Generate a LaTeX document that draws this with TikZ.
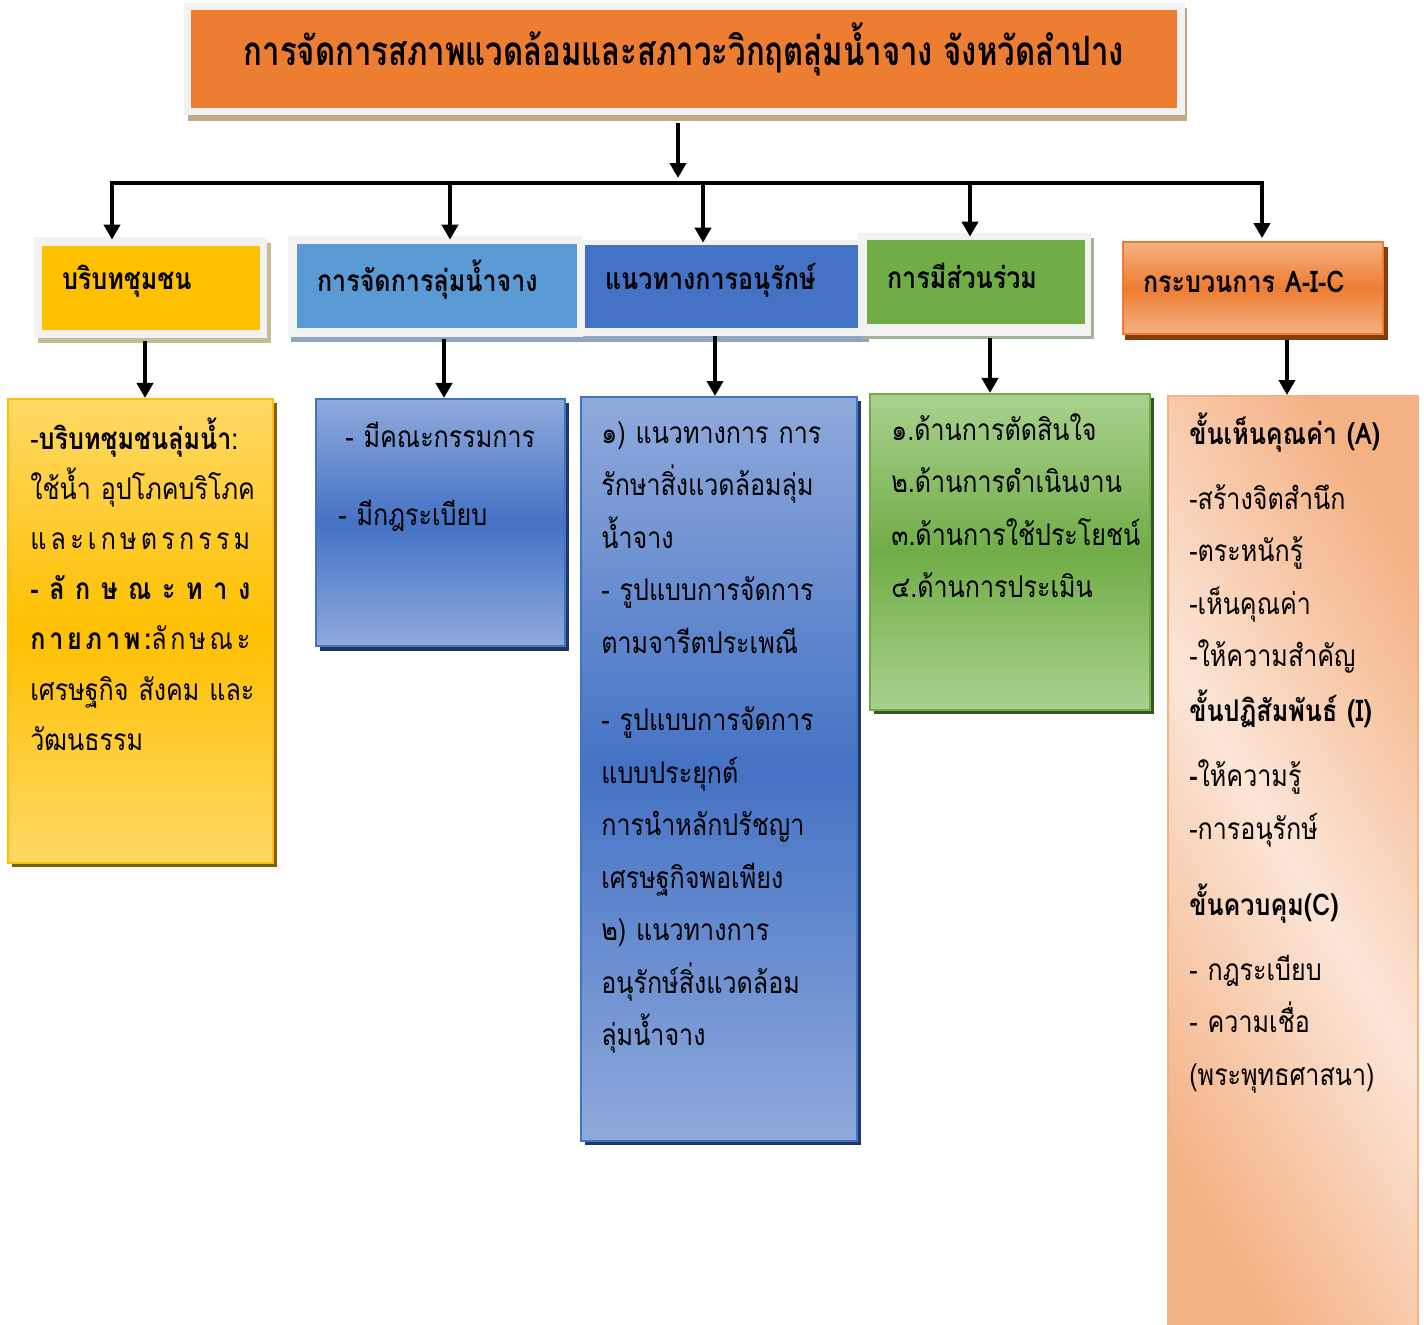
\documentclass[tikz,border=0pt]{standalone}
\usepackage{fontspec}
\setmainfont{Loma}[Script=Thai,FakeStretch=0.84]
\newfontfamily\titlefont{Loma}[Script=Thai,FakeStretch=0.77]
\usetikzlibrary{arrows.meta}

\definecolor{orgmain}{HTML}{ED7D31}
\definecolor{orglight}{HTML}{F4B183}
\definecolor{orgshadow}{HTML}{843C0C}
\definecolor{tanshadow}{HTML}{C4A88C}
\definecolor{framegray}{HTML}{F2F2F2}
\definecolor{yelmain}{HTML}{FFC000}
\definecolor{yellight}{HTML}{FFD966}
\definecolor{yelshadow}{HTML}{7F6000}
\definecolor{khaki}{HTML}{C9BC94}
\definecolor{bluemid}{HTML}{5B9BD5}
\definecolor{bluemain}{HTML}{4472C4}
\definecolor{bluelight}{HTML}{8FAADC}
\definecolor{blueshadow}{HTML}{203864}
\definecolor{bluegray}{HTML}{8EA5C4}
\definecolor{grnmain}{HTML}{70AD47}
\definecolor{grnlight}{HTML}{A9D18E}
\definecolor{grnshadow}{HTML}{385723}
\definecolor{grngray}{HTML}{A3B396}
\definecolor{peach}{HTML}{FBE5D6}

\begin{document}
\begin{tikzpicture}[x=0.02cm,y=-0.02cm,>={Triangle[length=0.3cm,width=0.32cm]}]
    \useasboundingbox (0,0) rectangle (1424,1325);

    \tikzset{conn/.style={line width=2.2pt,black}}
    \tikzset{headbox/.style={inner xsep=0.4cm,align=left,font=\fontsize{17}{20}\selectfont\bfseries}}
    \tikzset{listbox/.style={line width=1.2pt}}
    \tikzset{listtext/.style={anchor=base west,inner sep=0pt,align=left,font=\fontsize{17}{29.9}\selectfont}}

    % title
    \fill[tanshadow] (188,8) rectangle (1187,121);
    \fill[framegray] (184,3) rectangle (1185,115);
    \node[fill=orgmain,minimum width=19.72cm,minimum height=1.96cm,
          font=\titlefont\fontsize{23}{26}\selectfont\bfseries] (title) at (684,59)
        {\raisebox{0.2cm}[\height][\depth]{การจัดการสภาพแวดล้อมและสภาวะวิกฤตลุ่มน้ำจาง จังหวัดลำปาง}};

    % headers
    \fill[khaki] (38,243) rectangle (271,343);
    \fill[framegray] (34,237) rectangle (267,338);
    \node[headbox,fill=yelmain,text width=3.56cm,minimum height=1.68cm] (hd1) at (151,288)
        {\raisebox{0.13cm}[\height][\depth]{บริบทชุมชน}};

    \fill[bluegray] (291,241) rectangle (588,342);
    \fill[framegray] (288,236) rectangle (583,337);
    \node[headbox,fill=bluemid,text width=4.8cm,minimum height=1.68cm] (hd2) at (437,286)
        {\raisebox{0.13cm}[\height][\depth]{การจัดการลุ่มน้ำจาง}};

    \fill[bluegray] (583,245) rectangle (869,342);
    \fill[framegray] (580,240) rectangle (864,336);
    \node[headbox,fill=bluemain,text width=4.66cm,minimum height=1.66cm] (hd3) at (721.5,286.5)
        {\raisebox{0.13cm}[\height][\depth]{แนวทางการอนุรักษ์}};

    \fill[grngray] (862,238) rectangle (1094,339);
    \fill[framegray] (858,233) rectangle (1091,336);
    \node[headbox,fill=grnmain,text width=3.56cm,minimum height=1.68cm] (hd4) at (976,282)
        {\raisebox{0.13cm}[\height][\depth]{การมีส่วนร่วม}};

    \fill[orgshadow] (1125,247) rectangle (1388,340);
    \node[headbox,draw=orgmain,line width=1pt,top color=orglight,bottom color=orglight,middle color=orgmain,
          text width=4.4cm,minimum height=1.84cm] (hd5) at (1253,288)
        {\raisebox{0.13cm}[\height][\depth]{กระบวนการ A-I-C}};

    % lists
    \fill[yelshadow] (12,403) rectangle (277,867);
    \node[listbox,draw=yelmain,top color=yellight,bottom color=yellight,middle color=yelmain,
          minimum width=5.3cm,minimum height=9.28cm] (ls1) at (140.5,631) {};
    \fill[blueshadow] (320,403) rectangle (569,651);
    \node[listbox,draw=bluemain,top color=bluelight,bottom color=bluelight,middle color=bluemain,
          minimum width=4.98cm,minimum height=4.94cm] (ls2) at (440.5,522.5) {};
    \fill[blueshadow] (585,401) rectangle (861,1145);
    \node[listbox,draw=bluemain,top color=bluelight,bottom color=bluelight,middle color=bluemain,
          minimum width=5.52cm,minimum height=14.88cm] (ls3) at (719,769) {};
    \fill[grnshadow] (874,398) rectangle (1154,714);
    \node[listbox,draw=grnmain,top color=grnlight,bottom color=grnlight,middle color=grnmain,
          minimum width=5.6cm,minimum height=6.32cm] (ls4) at (1010,552) {};
    \coordinate (mid5) at (1293,863);
    \shade[top color=orglight,bottom color=orglight,middle color=peach,shading angle=-24,
           transform canvas={shift={(mid5)},xscale=0.2677}] (-467,-467) rectangle (467,467);
    \node[listbox,draw=orglight,minimum width=5cm,minimum height=18.68cm] (ls5) at (mid5) {};

    \node[listtext,text width=4.4cm,font=\fontsize{17}{28.6}\selectfont] (tx1) at (30,449) {%
        \makebox[\linewidth][l]{-\textbf{บริบทชุมชนลุ่มน้ำ}:}\\
        \makebox[\linewidth][s]{ใช้น้ำ อุปโภคบริโภค}\\
        \makebox[\linewidth][s]{แ\hfill ล\hfill ะ\hfill เ\hfill ก\hfill ษ\hfill ต\hfill ร\hfill ก\hfill ร\hfill ร\hfill ม}\\
        \makebox[\linewidth][s]{\bfseries -\hfill ลั\hfill ก\hfill ษ\hfill ณ\hfill ะ\hfill ท\hfill า\hfill ง}\\
        \makebox[\linewidth][s]{\textbf{ก\hfill า\hfill ย\hfill ภ\hfill า\hfill พ\hfill :}ลั\hfill ก\hfill ษ\hfill ณ\hfill ะ}\\
        \makebox[\linewidth][s]{เศรษฐกิจ สังคม และ}\\
        วัฒนธรรม};
    \node[listtext,text width=5cm] (tx2) at (338,447) {%
        \hspace*{4pt}- มีคณะกรรมการ\\[14.5pt]
        - มีกฎระเบียบ};
    \node[listtext,text width=6cm] (tx3) at (601,443) {%
        ๑) แนวทางการ การ\\
        รักษาสิ่งแวดล้อมลุ่ม\\
        น้ำจาง\\
        - รูปแบบการจัดการ\\
        ตามจารีตประเพณี\\[14.2pt]
        - รูปแบบการจัดการ\\
        แบบประยุกต์\\
        การนำหลักปรัชญา\\
        เศรษฐกิจพอเพียง\\
        ๒) แนวทางการ\\
        อนุรักษ์สิ่งแวดล้อม\\
        ลุ่มน้ำจาง};
    \node[listtext,text width=6cm] (tx4) at (891,440) {%
        ๑.ด้านการตัดสินใจ\\
        ๒.ด้านการดำเนินงาน\\
        ๓.ด้านการใช้ประโยชน์\\
        ๔.ด้านการประเมิน};
    \node[listtext,text width=5cm] (tx5) at (1189,444) {%
        \textbf{ขั้นเห็นคุณค่า (A)}\\[7.1pt]
        -สร้างจิตสำนึก\\
        -ตระหนักรู้\\
        -เห็นคุณค่า\\
        -ให้ความสำคัญ\\[1.4pt]
        \textbf{ขั้นปฏิสัมพันธ์ (I)}\\[7.1pt]
        \textbf{-}ให้ความรู้\\
        -การอนุรักษ์\\[13.3pt]
        \textbf{ขั้นควบคุม(C)}\\[7.1pt]
        - กฎระเบียบ\\
        - ความเชื่อ\\
        (พระพุทธศาสนา)};

    % connectors
    \coordinate (bus) at (678,183);
    \coordinate (b1) at (112,183);
    \coordinate (b2) at (450,183);
    \coordinate (b3) at (703,183);
    \coordinate (b4) at (970,183);
    \coordinate (b5) at (1262,183);
    \coordinate (k1) at (145,0);
    \coordinate (k2) at (444,0);
    \coordinate (k3) at (715,0);
    \coordinate (k4) at (990,0);
    \coordinate (k5) at (1287,0);

    \draw[->,conn,shorten <=0.3cm,shorten >=0.1cm] (bus |- title.south) -- (bus);
    \draw[conn,line cap=rect] (b1) -- (b5);
    \draw[->,conn,shorten >=0.12cm] (b1) -- (b1 |- hd1.north);
    \draw[->,conn,shorten >=0.08cm] (b2) -- (b2 |- hd2.north);
    \draw[->,conn,shorten >=0.04cm] (b3) -- (b3 |- hd3.north);
    \draw[->,conn,shorten >=0.06cm] (b4) -- (b4 |- hd4.north);
    \draw[->,conn,shorten >=0.06cm] (b5) -- (b5 |- hd5.north);

    \draw[->,conn,shorten <=0.22cm] (k1 |- hd1.south) -- (k1 |- ls1.north);
    \draw[->,conn,shorten <=0.22cm] (k2 |- hd2.south) -- (k2 |- ls2.north);
    \draw[->,conn,shorten <=0.16cm] (k3 |- hd3.south) -- (k3 |- ls3.north);
    \draw[->,conn,shorten <=0.28cm] (k4 |- hd4.south) -- (k4 |- ls4.north);
    \draw[->,conn,shorten <=0.1cm] (k5 |- hd5.south) -- (k5 |- ls5.north);
\end{tikzpicture}
\end{document}
